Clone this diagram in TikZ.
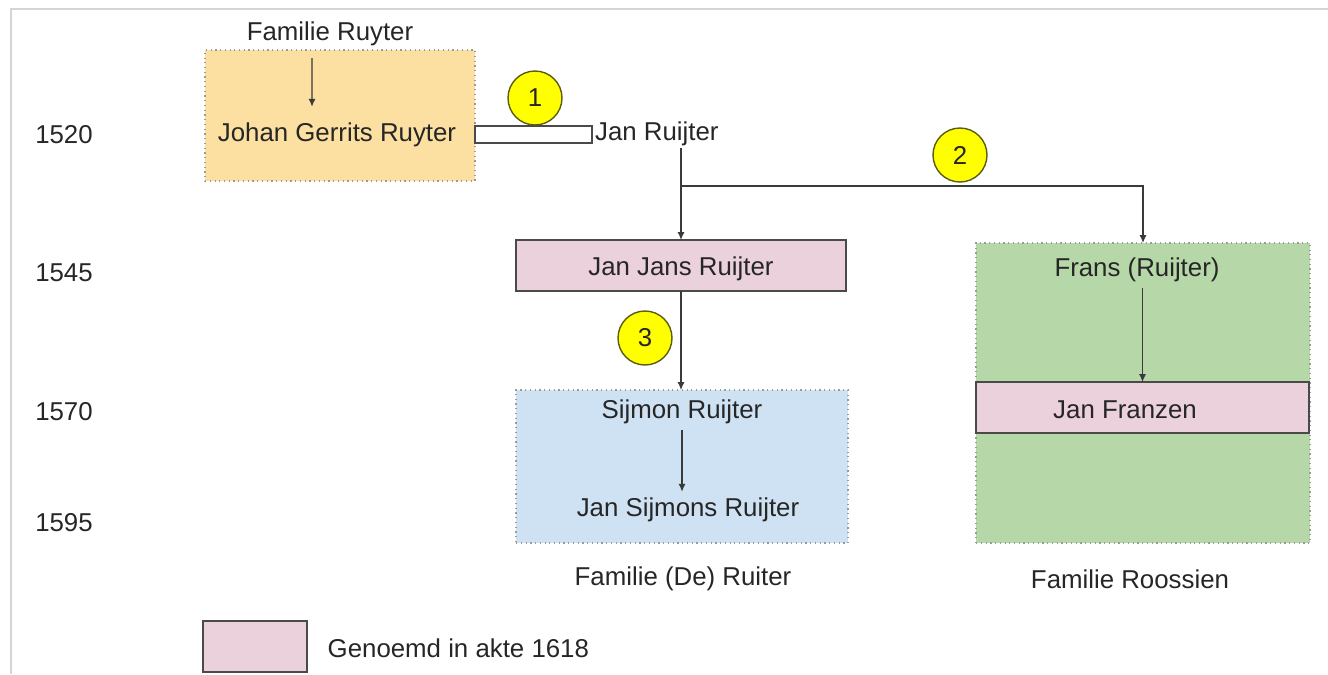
\documentclass[tikz,border=0pt]{standalone}
\usepackage{fontspec}
\setmainfont{Liberation Sans}
\usepackage{xcolor}
\usetikzlibrary{positioning,arrows.meta}

\definecolor{txtgray}{HTML}{262626}
\definecolor{linegray}{HTML}{3A3A3A}
\definecolor{boxgray}{HTML}{4A4A4A}
\definecolor{dotgray}{HTML}{9A9A9A}
\definecolor{framegray}{HTML}{D4D4D4}
\definecolor{ruyterorange}{HTML}{FBE0A2}
\definecolor{aktepink}{HTML}{EAD1DC}
\definecolor{ruiterblue}{HTML}{CFE2F3}
\definecolor{roossiengreen}{HTML}{B6D7A8}
\definecolor{markeryellow}{HTML}{FFFF00}
\definecolor{markerline}{HTML}{5C5C10}

\tikzset{
    arr/.style={draw=linegray, line width=0.7pt, -{Latex[length=4.5pt,width=4pt]}},
    famzone/.style={draw=dotgray, dotted, line width=0.7pt, inner sep=0pt, outer sep=0pt},
    aktebox/.style={draw=boxgray, line width=0.8pt, fill=aktepink, inner sep=0pt, outer sep=0pt},
    marker/.style={circle, draw=markerline, line width=0.8pt, fill=markeryellow, minimum size=1.08cm, inner sep=0pt}
}

\begin{document}
\begin{tikzpicture}[x=0.02cm, y=-0.02cm, font=\fontsize{14.7}{17}\selectfont, text=txtgray]
    \useasboundingbox (0,0) rectangle (1328,674);
    \draw[framegray, line width=0.8pt] (11,674) -- (11,9) -- (1328,9);

    % family areas
    \node[famzone, fill=ruyterorange, minimum width=5.4cm, minimum height=2.62cm] (ruyterbox) at (340,115.5) {};
    \node[famzone, fill=ruiterblue, minimum width=6.64cm, minimum height=3.06cm] (ruiterbox) at (682,466.5) {};
    \node[famzone, fill=roossiengreen, minimum width=6.68cm, minimum height=6cm] (roossienbox) at (1143,393) {};

    % years
    \node (y1520) at (64,135) {1520};
    \node (y1545) at (64,273) {1545};
    \node (y1570) at (64,412) {1570};
    \node (y1595) at (64,523) {1595};

    % persons
    \node (famruyter) at (330,34) {Familie Ruyter};
    \node (johan) at (337,135) {Johan Gerrits Ruyter};
    \node[draw=boxgray, line width=0.7pt, fill=white, minimum width=2.34cm, minimum height=0.34cm, inner sep=0pt] (link) at (533.5,134.5) {};
    \node[anchor=west, inner sep=1pt] (janr) at (593,134) {Jan Ruijter};
    \node[aktebox, minimum width=6.6cm, minimum height=1.02cm, text height=0.5cm, text depth=0.11cm] (janjans) at (681,265.5) {Jan Jans Ruijter};
    \node (sijmon) at (682,412) {Sijmon Ruijter};
    \node (jansijmons) at (688,510) {Jan Sijmons Ruijter};
    \node (famruiter) at (683,579) {Familie (De) Ruiter};
    \node (frans) at (1137,270) {Frans (Ruijter)};
    \node[aktebox, minimum width=6.66cm, minimum height=1.02cm] (franzenbox) at (1142.5,407.5) {};
    \node (franzen) at (1125,410) {Jan Franzen};
    \node (famroossien) at (1130,579) {Familie Roossien};

    % connectors
    \draw[arr] ([xshift=-0.56cm, yshift=-0.16cm]ruyterbox.north) -- ([xshift=-0.5cm, yshift=0.2cm]johan.north);
    \draw[arr] (janr.south -| janjans.north) -- (janjans.north);
    \coordinate (split) at (janjans.north |- 0,186);
    \draw[arr] (split) -| (roossienbox.north);
    \draw[arr] (janjans.south) -- (janjans.south |- ruiterbox.north);
    \draw[arr] (sijmon.south) -- (sijmon.south |- jansijmons.north);
    \draw[arr] (frans.south -| franzenbox.north) -- (franzenbox.north);

    % markers
    \node[marker] (m1) at (535,98) {1};
    \node[marker] (m2) at (960,155) {2};
    \node[marker] (m3) at (645,338) {3};

    % legend
    \node[aktebox, minimum width=2.08cm, minimum height=1.02cm] (legend) at (255,646.5) {};
    \node[right=0.29cm of legend, yshift=-0.04cm] (legendtxt) {Genoemd in akte 1618};
\end{tikzpicture}
\end{document}
